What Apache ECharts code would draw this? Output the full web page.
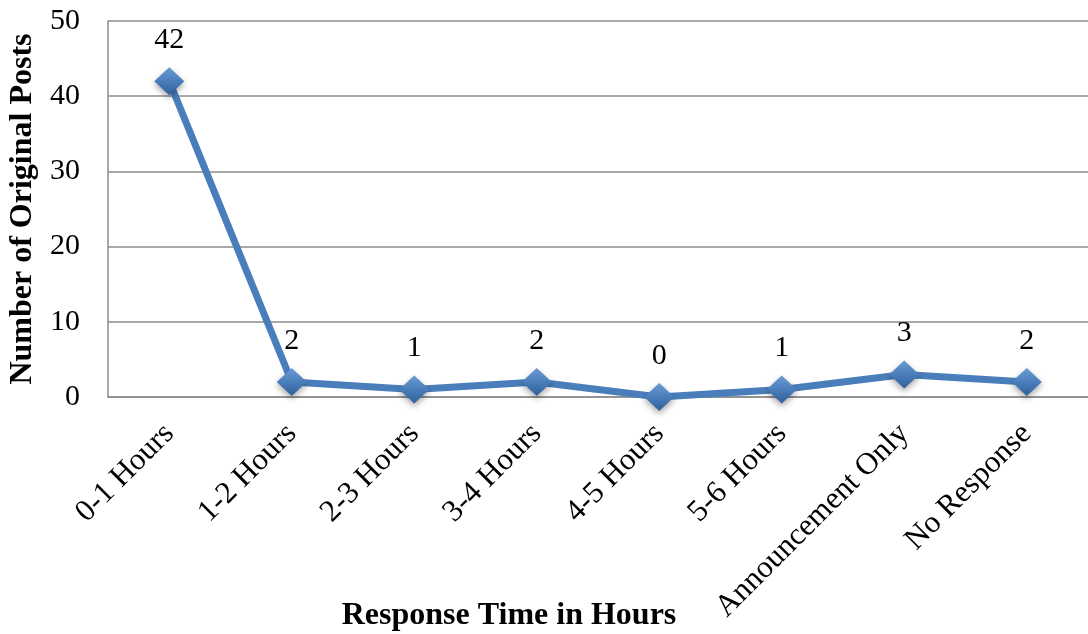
<!DOCTYPE html>
<html>
<head>
<meta charset="utf-8">
<script src="https://cdn.jsdelivr.net/npm/echarts@6/dist/echarts.min.js"></script>
<style>
  html, body { margin: 0; padding: 0; background: #fff; }
  #chart { width: 1088px; height: 634px; }
</style>
</head>
<body>
<div id="chart"></div>
<script>
// data
var categories = ['0-1 Hours', '1-2 Hours', '2-3 Hours', '3-4 Hours', '4-5 Hours', '5-6 Hours', 'Announcement Only', 'No Response'];
var postCounts = [42, 2, 1, 2, 0, 1, 3, 2];
var yTicks = [0, 10, 20, 30, 40, 50];

var serif = '"Liberation Serif", "Times New Roman", serif';

var chart = echarts.init(document.getElementById('chart'));
var option = {
  animation: false,
  title: {
    text: 'Response Time in Hours',
    left: 504,
    top: 595,
    textAlign: 'center',
    textStyle: { fontFamily: serif, fontSize: 32, fontWeight: 'bold', color: '#000' }
  },
  grid: { left: 108, right: 0, top: 21, bottom: 237, containLabel: false, outerBoundsMode: 'none' },
  xAxis: {
    type: 'category',
    data: categories,
    boundaryGap: true,
    axisLine: { lineStyle: { color: '#8c8c8c', width: 1.5 } },
    axisTick: { show: false },
    axisLabel: {
      rotate: 45,
      margin: 32,
      fontFamily: serif,
      fontSize: 31,
      color: '#000',
      interval: 0
    }
  },
  yAxis: {
    type: 'value',
    min: yTicks[0],
    max: yTicks[yTicks.length - 1],
    interval: 10,
    name: 'Number of Original Posts',
    nameLocation: 'middle',
    nameGap: 68,
    nameTextStyle: { fontFamily: serif, fontSize: 32, fontWeight: 'bold', color: '#000' },
    axisLine: { show: true, lineStyle: { color: '#8c8c8c', width: 1.5 } },
    axisTick: { show: false },
    splitLine: { lineStyle: { color: '#8c8c8c', width: 1.5 } },
    axisLabel: { margin: 28, fontFamily: serif, fontSize: 30, color: '#000' }
  },
  series: [{
    type: 'line',
    data: postCounts,
    symbol: 'diamond',
    symbolSize: [30, 28],
    lineStyle: { color: '#4a7ebb', width: 7 },
    itemStyle: {
      color: new echarts.graphic.LinearGradient(0, 0, 0, 1, [
        { offset: 0, color: '#6a9ad6' },
        { offset: 0.5, color: '#4a7ebb' },
        { offset: 1, color: '#2f5f99' }
      ]),
      borderWidth: 0,
      shadowColor: 'rgba(0,0,0,0.35)',
      shadowBlur: 6,
      shadowOffsetY: 3
    },
    label: {
      show: true,
      position: 'top',
      distance: 12,
      fontFamily: serif,
      fontSize: 30,
      color: '#000'
    }
  }]
};
chart.setOption(option);
</script>
</body>
</html>
